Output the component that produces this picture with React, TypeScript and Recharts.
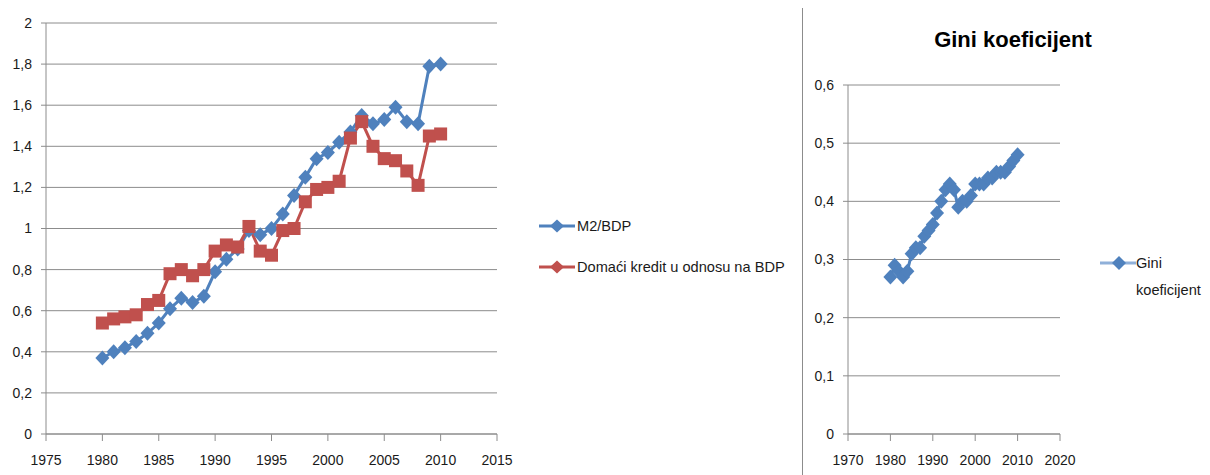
import { CartesianGrid, Line, LineChart, XAxis, YAxis } from "recharts";

// godine 1980-2010
const years = [
  1980, 1981, 1982, 1983, 1984, 1985, 1986, 1987, 1988, 1989, 1990, 1991, 1992,
  1993, 1994, 1995, 1996, 1997, 1998, 1999, 2000, 2001, 2002, 2003, 2004, 2005,
  2006, 2007, 2008, 2009, 2010,
];

const m2Bdp = [
  0.37, 0.4, 0.42, 0.45, 0.49, 0.54, 0.61, 0.66, 0.64, 0.67, 0.79, 0.85, 0.9,
  0.99, 0.97, 1.0, 1.07, 1.16, 1.25, 1.34, 1.37, 1.42, 1.47, 1.55, 1.51, 1.53,
  1.59, 1.52, 1.51, 1.79, 1.8,
];

const domaciKredit = [
  0.54, 0.56, 0.57, 0.58, 0.63, 0.65, 0.78, 0.8, 0.77, 0.8, 0.89, 0.92, 0.91,
  1.01, 0.89, 0.87, 0.99, 1.0, 1.13, 1.19, 1.2, 1.23, 1.44, 1.52, 1.4, 1.34,
  1.33, 1.28, 1.21, 1.45, 1.46,
];

const gini = [
  0.27, 0.29, 0.28, 0.27, 0.28, 0.31, 0.32, 0.32, 0.34, 0.35, 0.36, 0.38, 0.4,
  0.42, 0.43, 0.42, 0.39, 0.4, 0.4, 0.41, 0.43, 0.43, 0.43, 0.44, 0.44, 0.45,
  0.45, 0.45, 0.46, 0.47, 0.48,
];

const leftXTicks = [1975, 1980, 1985, 1990, 1995, 2000, 2005, 2010, 2015];
const leftYTicks = [0, 0.2, 0.4, 0.6, 0.8, 1, 1.2, 1.4, 1.6, 1.8, 2];
const rightXTicks = [1970, 1980, 1990, 2000, 2010, 2020];
const rightYTicks = [0, 0.1, 0.2, 0.3, 0.4, 0.5, 0.6];

const BLUE = "#4f81bd";
const RED = "#c0504d";
const GRID = "#8c8c8c";
const FONT = "'Liberation Sans', Arial, sans-serif";

const leftData = years.map((year, i) => ({
  year,
  m2: m2Bdp[i],
  kredit: domaciKredit[i],
}));
const rightData = years.map((year, i) => ({ year, gini: gini[i] }));

const comma = (v: number) => String(v).replace(".", ",");

const Diamond = (props: any) => {
  const { cx, cy, index } = props;
  if (cx == null || cy == null) return <g key={index} />;
  return (
    <path
      key={index}
      d={`M${cx},${cy - 7.5}L${cx + 7},${cy}L${cx},${cy + 7.5}L${cx - 7},${cy}Z`}
      fill={BLUE}
    />
  );
};

const Square = (props: any) => {
  const { cx, cy, index } = props;
  if (cx == null || cy == null) return <g key={index} />;
  return <rect key={index} x={cx - 6.5} y={cy - 6.5} width={13} height={13} fill={RED} />;
};

const tickStyle = { fill: "#1a1a1a", fontSize: 14, fontFamily: FONT };

function LegendRow({ color, label, square, top, left }: any) {
  return (
    <div style={{ position: "absolute", left, top, display: "flex", alignItems: "center" }}>
      <svg width={36} height={14}>
        <line x1={0} y1={7} x2={36} y2={7} stroke={color} strokeWidth={3} />
        {square ? (
          <rect x={13} y={1} width={12} height={12} fill={color} />
        ) : (
          <path d="M18,0.5L25,7L18,13.5L11,7Z" fill={color} />
        )}
      </svg>
      <span style={{ fontSize: 14.6, fontFamily: FONT, color: "#1a1a1a", marginLeft: 2 }}>
        {label}
      </span>
    </div>
  );
}

export default function App() {
  return (
    <div
      style={{
        position: "absolute",
        left: 0,
        top: 0,
        width: 1210,
        height: 475,
        background: "#fff",
        overflow: "hidden",
      }}
    >
      <div style={{ position: "absolute", left: 0, top: 0 }}>
        <LineChart
          width={520}
          height={475}
          data={leftData}
          margin={{ top: 23, right: 23, bottom: 11, left: 0 }}
        >
          <CartesianGrid vertical={false} stroke={GRID} />
          <XAxis
            dataKey="year"
            type="number"
            domain={[1975, 2015]}
            ticks={leftXTicks}
            stroke={GRID}
            tickSize={7}
            tickMargin={14}
            height={30}
            tick={tickStyle}
            interval={0}
          />
          <YAxis
            domain={[0, 2]}
            ticks={leftYTicks}
            tickFormatter={comma}
            stroke={GRID}
            width={46}
            tickSize={5}
            tickMargin={9}
            tick={tickStyle}
            interval={0}
          />
          <Line
            dataKey="m2"
            stroke={BLUE}
            strokeWidth={3}
            dot={Diamond}
            isAnimationActive={false}
          />
          <Line
            dataKey="kredit"
            stroke={RED}
            strokeWidth={3}
            dot={Square}
            isAnimationActive={false}
          />
        </LineChart>
      </div>

      <LegendRow color={BLUE} label="M2/BDP" top={218} left={539} />
      <LegendRow color={RED} label="Domaći kredit u odnosu na BDP" top={259} left={539} />

      <div
        style={{
          position: "absolute",
          left: 802,
          top: 8,
          width: 1,
          height: 467,
          background: GRID,
        }}
      />

      <div
        style={{
          position: "absolute",
          left: 903,
          top: 27,
          width: 220,
          textAlign: "center",
          fontFamily: FONT,
          fontWeight: "bold",
          fontSize: 22,
          color: "#000",
        }}
      >
        Gini koeficijent
      </div>

      <div style={{ position: "absolute", left: 803, top: 0 }}>
        <LineChart
          width={280}
          height={475}
          data={rightData}
          margin={{ top: 85, right: 23, bottom: 11, left: 0 }}
        >
          <CartesianGrid vertical={false} stroke={GRID} />
          <XAxis
            dataKey="year"
            type="number"
            domain={[1970, 2020]}
            ticks={rightXTicks}
            stroke={GRID}
            tickSize={7}
            tickMargin={14}
            height={30}
            tick={tickStyle}
            interval={0}
          />
          <YAxis
            domain={[0, 0.6]}
            ticks={rightYTicks}
            tickFormatter={comma}
            stroke={GRID}
            width={45}
            tickSize={5}
            tickMargin={9}
            tick={tickStyle}
            interval={0}
          />
          <Line
            dataKey="gini"
            stroke={BLUE}
            strokeWidth={3}
            dot={Diamond}
            isAnimationActive={false}
          />
        </LineChart>
      </div>

      <div style={{ position: "absolute", left: 1100, top: 254, display: "flex" }}>
        <svg width={36} height={18}>
          <line x1={0} y1={9} x2={36} y2={9} stroke="#8fb0d9" strokeWidth={3} />
          <path d="M19,2L26,9L19,16L12,9Z" fill={BLUE} />
        </svg>
        <div
          style={{
            fontSize: 14.6,
            fontFamily: FONT,
            color: "#1a1a1a",
            lineHeight: "27px",
            marginTop: -4,
          }}
        >
          Gini
          <br />
          koeficijent
        </div>
      </div>
    </div>
  );
}
